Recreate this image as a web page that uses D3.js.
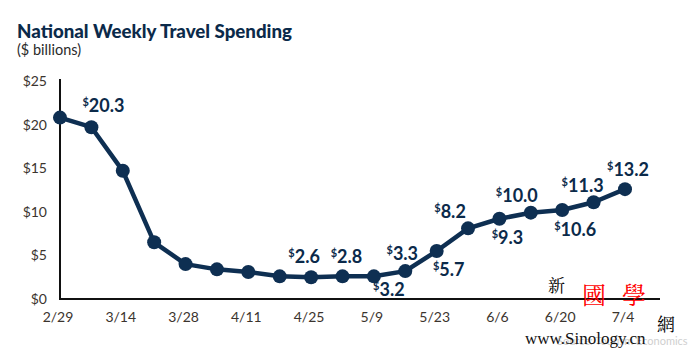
<!DOCTYPE html>
<html><head><meta charset="utf-8">
<script src="https://cdn.jsdelivr.net/npm/d3@7"></script>
<style>body{margin:0;background:#fff}svg{display:block}</style>
</head><body>
<script>
const weeks = ["2/29","3/7","3/14","3/21","3/28","4/4","4/11","4/18","4/25","5/2","5/9","5/16","5/23","5/30","6/6","6/13","6/20","6/27","7/4"];
const spending = [20.8,19.7,14.7,6.5,4.0,3.4,3.1,2.6,2.5,2.6,2.6,3.2,5.5,8.1,9.2,9.9,10.2,11.1,12.6];
const tickWeeks = ["2/29","3/14","3/28","4/11","4/25","5/9","5/23","6/6","6/20","7/4"];
const yTicks = [0,5,10,15,20,25];
// value labels: week, text, placement
const labelWeeks = ["3/7","4/25","5/2","5/9","5/16","5/23","5/30","6/6","6/13","6/20","6/27","7/4"];
const labelTexts = ["20.3","2.6","2.8","3.2","3.3","5.7","8.2","9.3","10.0","10.6","11.3","13.2"];
const labelPos = ["p20","p26","p28","p32","p33","p57","p82","p93","p100","p106","p113","p132"];

const W=700,H=357;
const navy="#0e2f52";
const svg=d3.select("body").append("svg").attr("width",W).attr("height",H);
const x=d3.scalePoint().domain(weeks).range([60,625]);
const y=d3.scaleLinear().domain([0,25]).range([299,81]);

svg.append("text").attr("x",17).attr("y",38).attr("fill","#0b2a4a")
  .attr("font-family","Lato").attr("font-weight",900).attr("font-size",19.5)
  .attr("textLength",275).attr("lengthAdjust","spacingAndGlyphs")
  .text("National Weekly Travel Spending");
svg.append("text").attr("x",17).attr("y",55).attr("fill","#2a2a2a")
  .attr("font-family","Lato").attr("font-size",14.5).text("($ billions)");

// y tick labels
svg.append("g").selectAll("text").data(yTicks).join("text")
  .attr("x",47).attr("y",d=>y(d)+5).attr("text-anchor","end")
  .attr("font-family","Lato").attr("font-size",14).attr("fill","#3b342e")
  .text(d=>"$"+d);
// x tick labels
svg.append("g").selectAll("text").data(tickWeeks).join("text")
  .attr("x",d=>x(d)-2).attr("y",322).attr("text-anchor","middle")
  .attr("font-family","Lato").attr("font-size",14).attr("fill","#3b342e")
  .text(d=>d);

// axes lines
svg.append("path").attr("d",`M60,${y(25)-2}V${y(0)}H660`).attr("fill","none")
  .attr("stroke","#111").attr("stroke-width",2);

// line
const line=d3.line().x((d,i)=>x(weeks[i])).y(d=>y(d));
svg.append("path").datum(spending).attr("d",line).attr("fill","none")
  .attr("stroke",navy).attr("stroke-width",4.5).attr("stroke-linejoin","round");
svg.append("g").selectAll("circle").data(spending).join("circle")
  .attr("cx",(d,i)=>x(weeks[i])).attr("cy",d=>y(d)).attr("r",7).attr("fill",navy);

// value labels
const offs={p20:[12,-15],p26:[-7,-14],p28:[4,-13],p32:[15,20],p33:[-3,-11],p57:[12,25],
  p82:[-18,-10],p93:[8,25],p100:[-14,-11],p106:[13,26],p113:[-11,-10],p132:[3,-13]};
const lg=svg.append("g");
labelWeeks.forEach((w,k)=>{
  const i=weeks.indexOf(w);
  const o=offs[labelPos[k]];
  const t=lg.append("text").attr("x",x(w)+o[0]).attr("y",y(spending[i])+o[1])
    .attr("text-anchor","middle").attr("font-family","Lato").attr("font-weight",700)
    .attr("fill","#0b2a4a");
  t.append("tspan").attr("font-size",11).attr("dy",-6).text("$");
  t.append("tspan").attr("font-size",18).attr("dy",6).text(labelTexts[k]);
});

// source + watermark
svg.append("text").attr("x",557).attr("y",345).attr("font-family","Lato").attr("font-size",11)
  .attr("fill","#cfcfcf").text("Source: Tourism Economics");
const wm=[["新",548,292,"#000",17],["國",582,304,"#f00",24],["學",622,304,"#f00",24],["網",657,331,"#000",18]];
svg.append("g").selectAll("text").data(wm).join("text")
  .attr("x",d=>d[1]).attr("y",d=>d[2]).attr("fill",d=>d[3]).attr("font-size",d=>d[4])
  .attr("font-family","Noto Serif CJK SC, Noto Sans CJK SC").text(d=>d[0]);
svg.append("text").attr("x",525).attr("y",344).attr("font-family","Liberation Serif")
  .attr("font-size",17).attr("fill","#111").text("www.Sinology.cn");
</script>
</body></html>
